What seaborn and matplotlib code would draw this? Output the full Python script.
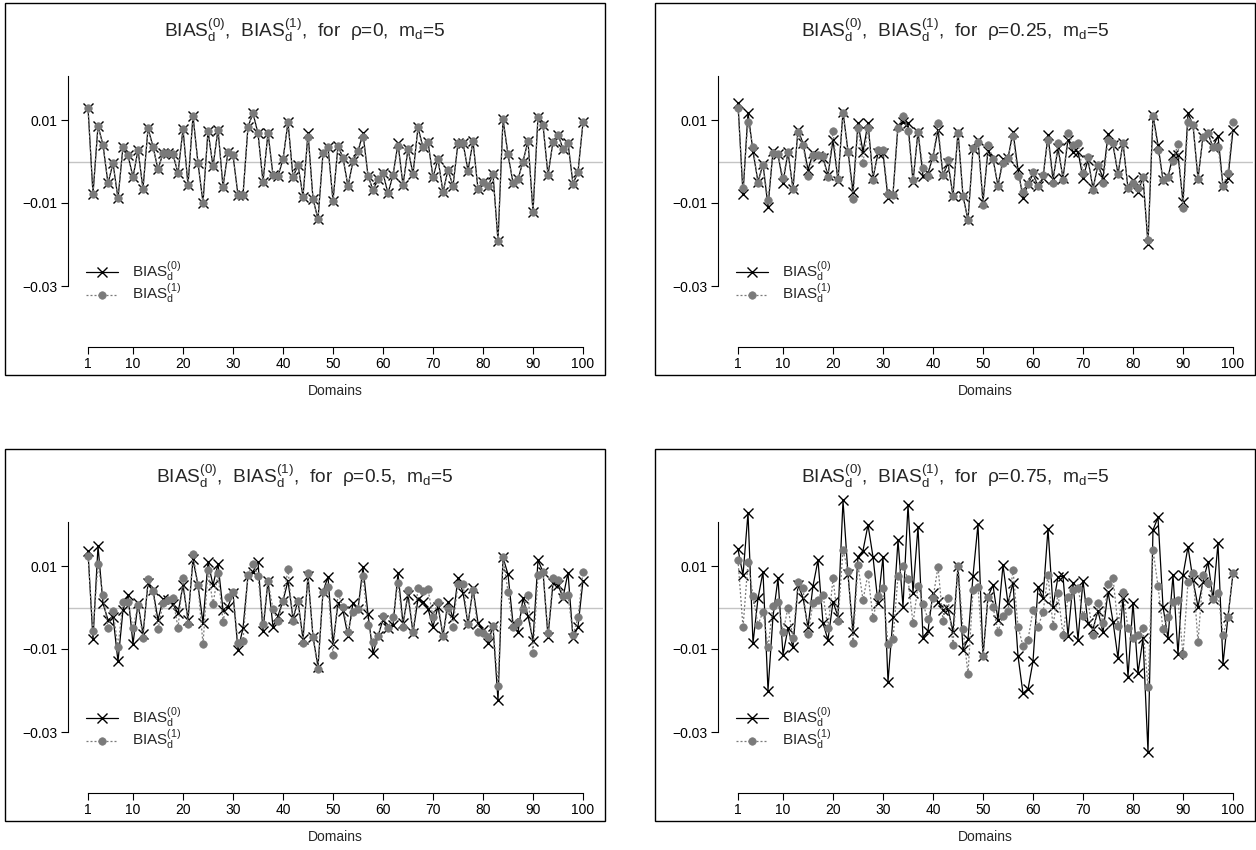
import numpy as np
import matplotlib
matplotlib.use("Agg")
import matplotlib.pyplot as plt
from matplotlib.patches import Rectangle
import seaborn as sns

# ---- data -------------------------------------------------------------
domains = np.arange(1, 101)
x_ticks = [1, 10, 20, 30, 40, 50, 60, 70, 80, 90, 100]
y_ticks = [-0.03, -0.01, 0.01]
y_tick_labels = ["\u22120.03", "\u22120.01", "0.01"]
rho_labels = ["0", "0.25", "0.5", "0.75"]
m_d = 5

bias0_rho000 = [
    0.013, -0.0078, 0.0086, 0.004, -0.0053, -0.0004, -0.0089, 0.0036, 0.0015, -0.0038,
    0.0028, -0.0066, 0.008, 0.0036, -0.0019, 0.002, 0.002, 0.0017, -0.0028, 0.0078,
    -0.0057, 0.011, -0.0004, -0.0099, 0.0074, -0.0012, 0.0077, -0.0061, 0.0023, 0.0015,
    -0.0081, -0.0081, 0.0084, 0.0116, 0.0068, -0.0049, 0.0069, -0.0033, -0.0035, 0.0005,
    0.0095, -0.0038, -0.0008, -0.0085, 0.0069, -0.009, -0.0139, 0.002, 0.0036, -0.0095,
    0.0038, 0.0009, -0.006, 0.0001, 0.0025, 0.0068, -0.0034, -0.0069, -0.0043, -0.0028,
    -0.0077, -0.0033, 0.0044, -0.0057, 0.003, -0.003, 0.0082, 0.0034, 0.0048, -0.0038,
    0.0006, -0.0074, -0.002, -0.0059, 0.0045, 0.0045, -0.0022, 0.0049, -0.0067, -0.0049,
    -0.006, -0.0031, -0.0191, 0.0102, 0.0017, -0.0051, -0.0043, 0.0, 0.0049, -0.0121,
    0.0108, 0.0088, -0.0033, 0.0048, 0.0065, 0.003, 0.0045, -0.0054, -0.0025, 0.0094]
bias1_rho000 = [
    0.013, -0.0078, 0.0086, 0.004, -0.0053, -0.0004, -0.0089, 0.0036, 0.0015, -0.0038,
    0.0028, -0.0066, 0.008, 0.0036, -0.0019, 0.002, 0.002, 0.0017, -0.0028, 0.0078,
    -0.0057, 0.011, -0.0004, -0.0099, 0.0074, -0.0012, 0.0077, -0.0061, 0.0023, 0.0015,
    -0.0081, -0.0081, 0.0084, 0.0116, 0.0068, -0.0049, 0.0069, -0.0033, -0.0035, 0.0005,
    0.0095, -0.0038, -0.0008, -0.0085, 0.006, -0.009, -0.0139, 0.002, 0.0036, -0.0095,
    0.0038, 0.0009, -0.006, 0.0001, 0.0025, 0.006, -0.0034, -0.0069, -0.0043, -0.0028,
    -0.0077, -0.0033, 0.0037, -0.0057, 0.003, -0.003, 0.0082, 0.0034, 0.0048, -0.0038,
    0.0006, -0.0074, -0.002, -0.0059, 0.0045, 0.0045, -0.0022, 0.0049, -0.0067, -0.0049,
    -0.006, -0.0031, -0.0191, 0.0102, 0.0017, -0.0051, -0.0043, 0.0, 0.0049, -0.0121,
    0.0108, 0.0088, -0.0033, 0.0048, 0.0065, 0.003, 0.0045, -0.0054, -0.0025, 0.0094]

bias0_rho025 = [
    0.014, -0.0078, 0.0118, 0.0024, -0.0049, -0.0006, -0.0109, 0.0025, 0.0017, -0.0051,
    0.0023, -0.0066, 0.0076, 0.0044, -0.002, 0.002, 0.0014, 0.0008, -0.0033, 0.0052,
    -0.0046, 0.012, 0.0025, -0.0073, 0.0092, 0.0024, 0.0093, -0.004, 0.002, 0.002,
    -0.0089, -0.0078, 0.0088, 0.0094, 0.0092, -0.0049, 0.0072, -0.0035, -0.0028, 0.0012,
    0.0076, -0.0033, -0.0004, -0.0083, 0.0072, -0.0083, -0.0141, 0.003, 0.0052, -0.0097,
    0.0026, 0.0006, -0.0059, 0.0006, 0.0008, 0.0072, -0.0019, -0.0087, -0.0055, -0.003,
    -0.006, -0.004, 0.0064, -0.0043, 0.0032, -0.004, 0.0053, 0.0024, 0.0024, -0.004,
    0.0004, -0.0065, -0.0008, -0.004, 0.0066, 0.004, -0.003, 0.0045, -0.0065, -0.0045,
    -0.0073, -0.0038, -0.0199, 0.0112, 0.004, -0.0045, -0.0038, 0.0016, 0.0016, -0.0097,
    0.0116, 0.0088, -0.0042, 0.006, 0.0068, 0.0034, 0.0062, -0.006, -0.004, 0.0076]
bias1_rho025 = [
    0.0128, -0.0065, 0.0096, 0.0036, -0.0053, -0.0008, -0.0093, 0.0021, 0.0017, -0.004,
    0.0023, -0.0066, 0.0072, 0.004, -0.0035, 0.0016, 0.0016, 0.0014, -0.0038, 0.0074,
    -0.0043, 0.0118, 0.0024, -0.0091, 0.0081, -0.0003, 0.0081, -0.0044, 0.0028, 0.0028,
    -0.0078, -0.008, 0.008, 0.011, 0.0074, -0.0045, 0.0072, -0.0016, -0.0035, 0.0012,
    0.0092, -0.0033, 0.0004, -0.0083, 0.0068, -0.0083, -0.0141, 0.0032, 0.0046, -0.0106,
    0.004, 0.0006, -0.0059, -0.0003, 0.0008, 0.0062, -0.0036, -0.0073, -0.0055, -0.0025,
    -0.006, -0.0033, 0.0052, -0.0051, 0.0044, -0.0045, 0.0068, 0.004, 0.0044, -0.0027,
    0.0012, -0.0069, -0.0008, -0.0053, 0.0052, 0.0045, -0.003, 0.0045, -0.0065, -0.0053,
    -0.0065, -0.0038, -0.0188, 0.011, 0.0028, -0.0045, -0.0038, 0.0002, 0.0042, -0.0113,
    0.0094, 0.0088, -0.0042, 0.006, 0.0068, 0.0034, 0.0036, -0.006, -0.0027, 0.0094]

bias0_rho050 = [
    0.0135, -0.0077, 0.0148, 0.001, -0.003, -0.0022, -0.013, -0.0006, 0.003, -0.0088,
    0.001, -0.0064, 0.0058, 0.0042, -0.003, 0.002, 0.0018, 0.0008, -0.0014, 0.0054,
    -0.0029, 0.0116, 0.0054, -0.0037, 0.011, 0.0054, 0.0105, -0.0006, 0.0002, 0.0034,
    -0.0102, -0.005, 0.0077, 0.0086, 0.011, -0.0056, 0.0064, -0.0046, -0.002, 0.0016,
    0.0064, -0.0026, 0.0016, -0.0076, 0.0076, -0.007, -0.0143, 0.0038, 0.0074, -0.0088,
    0.001, -0.0008, -0.0069, 0.0012, -0.0004, 0.0097, -0.0016, -0.011, -0.0069, -0.0029,
    -0.005, -0.0042, 0.0082, -0.0038, 0.003, -0.0061, 0.002, 0.0014, -0.0003, -0.0046,
    0.0002, -0.0068, 0.0014, -0.0026, 0.0072, 0.0036, -0.004, 0.0046, -0.0037, -0.0055,
    -0.0086, -0.0044, -0.0224, 0.0121, 0.008, -0.0038, -0.006, 0.0022, -0.002, -0.008,
    0.0114, 0.0086, -0.007, 0.0058, 0.0054, 0.0024, 0.0084, -0.0074, -0.0046, 0.0065]
bias1_rho050 = [
    0.0124, -0.0056, 0.0104, 0.003, -0.005, -0.0008, -0.0096, 0.0014, 0.0014, -0.005,
    0.0006, -0.0074, 0.0069, 0.004, -0.0053, 0.001, 0.0018, 0.0022, -0.005, 0.0072,
    -0.004, 0.013, 0.0054, -0.0089, 0.009, 0.0008, 0.0082, -0.0034, 0.0026, 0.0038,
    -0.0086, -0.0081, 0.0078, 0.0106, 0.0075, -0.004, 0.0064, -0.0004, -0.0033, 0.0016,
    0.0092, -0.0032, 0.0016, -0.0086, 0.0082, -0.0072, -0.0149, 0.0038, 0.0049, -0.0114,
    0.0034, 0.0002, -0.0058, -0.001, -0.0004, 0.0076, -0.0042, -0.0084, -0.0069, -0.002,
    -0.005, -0.0022, 0.006, -0.0048, 0.0042, -0.0058, 0.0046, 0.004, 0.0044, -0.0024,
    0.0014, -0.0068, 0.0, -0.0046, 0.0057, 0.0057, -0.004, 0.0042, -0.0058, -0.0062,
    -0.007, -0.0044, -0.0188, 0.0121, 0.0038, -0.0046, -0.0034, -0.0004, 0.003, -0.011,
    0.0078, 0.0086, -0.0062, 0.0072, 0.0066, 0.0028, 0.003, -0.0066, -0.0024, 0.0086]

bias0_rho075 = [
    0.014, 0.0078, 0.0228, -0.0086, 0.0022, 0.0086, -0.02, -0.0022, 0.007, -0.0114,
    -0.005, -0.0096, 0.0054, 0.0024, -0.0048, 0.0052, 0.0114, -0.0038, -0.0078, 0.0014,
    -0.0022, 0.0258, 0.008, -0.006, 0.0122, 0.0137, 0.0199, 0.0122, 0.001, 0.0122,
    -0.0179, -0.0024, 0.0162, 0.0002, 0.0247, 0.0036, 0.0195, -0.0073, -0.0056, 0.0036,
    0.0014, -0.0006, -0.0004, -0.0058, 0.01, -0.0102, -0.0077, 0.0076, 0.0201, -0.0118,
    0.0026, 0.0054, -0.003, 0.0102, 0.001, 0.006, -0.0117, -0.0207, -0.0197, -0.013,
    0.005, 0.0022, 0.019, 0.0002, 0.0074, 0.0075, -0.0069, 0.0058, -0.0078, 0.0065,
    -0.0038, -0.0052, -0.0008, -0.006, 0.0038, -0.0034, -0.0122, 0.0024, -0.0167, 0.0012,
    -0.0158, -0.0074, -0.0348, 0.0187, 0.0217, 0.0002, -0.0074, 0.0078, -0.0113, 0.0078,
    0.0146, 0.0066, 0.0002, 0.0062, 0.011, 0.002, 0.0155, -0.0136, -0.0022, 0.0082]
bias1_rho075 = [
    0.0114, -0.0048, 0.0109, 0.0028, -0.0042, -0.001, -0.0096, 0.0004, 0.0014, -0.006,
    0.0, -0.0074, 0.0062, 0.0046, -0.0064, 0.0012, 0.0018, 0.003, -0.005, 0.007,
    -0.0032, 0.0139, 0.0088, -0.0085, 0.0102, 0.0018, 0.0081, -0.0026, 0.0028, 0.0046,
    -0.0089, -0.0077, 0.0076, 0.01, 0.0069, -0.0038, 0.0052, 0.0008, -0.0028, 0.0022,
    0.0098, -0.0032, 0.0024, -0.009, 0.01, -0.0053, -0.016, 0.0042, 0.005, -0.0118,
    0.0026, 0.0002, -0.0058, -0.002, -0.0008, 0.009, -0.0046, -0.0093, -0.0078, -0.0006,
    -0.0046, -0.0012, 0.0078, -0.0044, 0.0034, -0.0066, 0.0026, 0.0042, 0.0048, -0.002,
    0.0016, -0.0066, 0.0012, -0.0038, 0.0056, 0.0072, -0.0044, 0.0038, -0.005, -0.0073,
    -0.0066, -0.005, -0.0191, 0.0139, 0.0052, -0.0053, -0.0024, 0.0014, 0.0018, -0.0113,
    0.0062, 0.0084, -0.0084, 0.0078, 0.0058, 0.002, 0.0034, -0.0066, -0.0022, 0.0082]

panels = [
    (rho_labels[0], bias0_rho000, bias1_rho000),
    (rho_labels[1], bias0_rho025, bias1_rho025),
    (rho_labels[2], bias0_rho050, bias1_rho050),
    (rho_labels[3], bias0_rho075, bias1_rho075),
]

# ---- style ------------------------------------------------------------
sns.set_style("ticks")
plt.rcParams["font.family"] = ["Liberation Sans", "DejaVu Sans"]
plt.rcParams["mathtext.fontset"] = "custom"
plt.rcParams["mathtext.rm"] = "Liberation Sans"
plt.rcParams["mathtext.it"] = "Liberation Sans:italic"
plt.rcParams["mathtext.bf"] = "Liberation Sans:bold"

W, H = 1256, 850
fig = plt.figure(figsize=(W / 100, H / 100), dpi=100)
fig.patch.set_facecolor("white")

PX_PER_UNIT = 4150.0   # pixels per unit of bias
PX_PER_DOMAIN = 5.0

label0 = r"BIAS$_\mathrm{d}^\mathrm{(0)}$"
label1 = r"BIAS$_\mathrm{d}^\mathrm{(1)}$"

for i, (rho, b0, b1) in enumerate(panels):
    dx = 650 * (i % 2)
    dy = 446 * (i // 2)
    # plotting region in pixels (bottom edge = x-axis line)
    left, right = 68 + dx, 603 + dx
    top, bottom = 40 + dy, 347 + dy
    zero_px = 161.5 + dy
    dom1_px = 88 + dx

    ax = fig.add_axes([left / W, 1 - bottom / H, (right - left) / W, (bottom - top) / H])
    ax.set_facecolor("none")
    ax.set_xlim(1 - (dom1_px - left) / PX_PER_DOMAIN, 1 + (right - dom1_px) / PX_PER_DOMAIN)
    ax.set_ylim(-(bottom - zero_px) / PX_PER_UNIT, (zero_px - top) / PX_PER_UNIT)

    ax.axhline(0, color="#c4c4c4", lw=1.0, zorder=0)

    sns.lineplot(x=domains, y=b0, ax=ax, color="black", lw=0.9,
                 marker="x", markersize=6.5, markeredgecolor="black",
                 markeredgewidth=1.0, label=label0, zorder=2)
    sns.lineplot(x=domains, y=b1, ax=ax, color="#7a7a7a", lw=0.9,
                 linestyle=(0, (1.6, 1.6)),
                 marker="o", markersize=5.4, markeredgecolor="#7a7a7a",
                 markerfacecolor="#7a7a7a", markeredgewidth=0.5,
                 label=label1, zorder=3)

    for side in ("top", "right"):
        ax.spines[side].set_visible(False)
    ax.spines["left"].set_bounds(-0.03, 0.0205)
    ax.spines["bottom"].set_bounds(1, 100)
    for side in ("left", "bottom"):
        ax.spines[side].set_linewidth(0.8)
        ax.spines[side].set_color("black")

    ax.set_xticks(x_ticks)
    ax.set_xticklabels([str(t) for t in x_ticks])
    ax.set_yticks(y_ticks)
    ax.set_yticklabels(y_tick_labels)
    ax.tick_params(direction="out", length=5, width=0.8, pad=2.5,
                   labelsize=10, colors="black")
    ax.set_xlabel("Domains", fontsize=10, labelpad=9)
    ax.set_ylabel("")

    ax.legend(loc="upper left",
              bbox_to_anchor=((86 + dx) / W, 1 - (260 + dy) / H),
              bbox_transform=fig.transFigure, frameon=False,
              fontsize=11, handlelength=2.1, handletextpad=0.9,
              labelspacing=-0.12, borderpad=0, borderaxespad=0)

    # box around the panel
    bx0, by0, bx1, by1 = 5 + dx, 3 + dy, 605 + dx, 375 + dy
    fig.add_artist(Rectangle((bx0 / W, 1 - by1 / H), (bx1 - bx0) / W, (by1 - by0) / H,
                             transform=fig.transFigure, fill=False,
                             edgecolor="black", lw=1.0))

    title = (label0 + ",  " + label1 + ",  for  \u03c1=" + rho
             + r",  m$_\mathrm{d}$=" + str(m_d))
    fig.text(((bx0 + bx1) / 2) / W, 1 - (30 + dy) / H, title,
             ha="center", va="center", fontsize=13.8)

fig.savefig("out.png", dpi=100)
